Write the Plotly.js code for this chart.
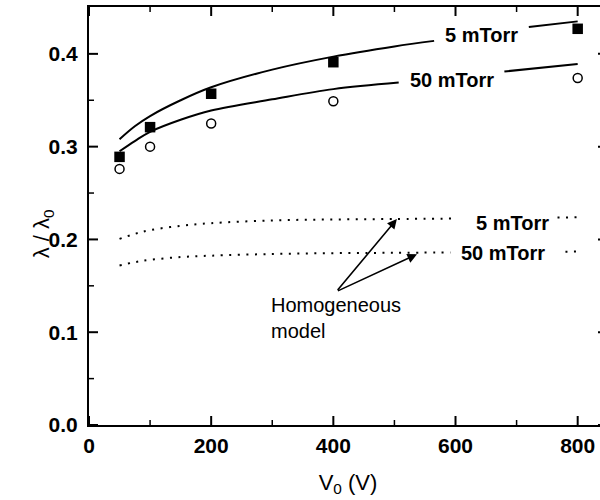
<!DOCTYPE html>
<html>
<head>
<meta charset="utf-8">
<script src="https://cdn.plot.ly/plotly-3.0.1.min.js"></script>
<style>
html, body { margin: 0; padding: 0; overflow: hidden; background: #fff; }
#chart { width: 607px; height: 500px; }
</style>
</head>
<body>
<div id="chart"></div>
<script>
// Measured points
const vData = [50, 100, 200, 400, 800];
const meas5 = [0.289, 0.321, 0.357, 0.391, 0.427];
const meas50 = [0.276, 0.300, 0.325, 0.349, 0.374];

// Model curves (null = gap where the label sits)
const fitX5 = [50, 75, 100, 150, 200, 300, 400, 500, 565, 640, 720, 800];
const fit5 = [0.308, 0.322, 0.333, 0.350, 0.364, 0.383, 0.397, 0.408, 0.414, null, 0.429, 0.435];
const fitX50 = [50, 75, 100, 150, 200, 300, 400, 507, 590, 680, 800];
const fit50 = [0.295, 0.306, 0.316, 0.329, 0.339, 0.351, 0.362, 0.369, null, 0.381, 0.389];

// Homogeneous model curves
const homX5 = [50, 75, 100, 150, 200, 300, 400, 500, 603, 680, 767, 805];
const hom5 = [0.2006, 0.206, 0.210, 0.2147, 0.2175, 0.2205, 0.2215, 0.222, 0.2225, null, 0.2235, 0.224];
const homX50 = [50, 75, 100, 150, 200, 300, 400, 500, 592, 680, 780, 802];
const hom50 = [0.172, 0.1755, 0.178, 0.181, 0.1825, 0.1843, 0.1852, 0.1856, 0.186, null, 0.1868, 0.187];

// Labels
const curveLabels = ['5 mTorr', '50 mTorr', '5 mTorr', '50 mTorr'];
const labelX = [643, 594, 693, 677];
const labelY = [0.4207, 0.3722, 0.2179, 0.1855];
const noteText = 'Homogeneous<br>model';
const arrowTail = [405, 0.1438];
const arrowHeadX = [504, 537];
const arrowHeadY = [0.222, 0.184];

// Ticks
const xTickVals = [0, 200, 400, 600, 800];
const xMinorVals = [100, 300, 500, 700];
const yTickVals = [0.0, 0.1, 0.2, 0.3, 0.4];
const yTickText = ['0.0', '0.1', '0.2', '0.3', '0.4'];
const yMinorVals = [0.05, 0.15, 0.25, 0.35];

const FONT = 'Liberation Sans, Arial, Helvetica, sans-serif';

const traces = [
  {x: fitX5, y: fit5, mode: 'lines', line: {color: '#000', width: 2, shape: 'spline'}, connectgaps: false},
  {x: fitX50, y: fit50, mode: 'lines', line: {color: '#000', width: 2, shape: 'spline'}, connectgaps: false},
  {x: homX5, y: hom5, mode: 'lines', line: {color: '#000', width: 2, shape: 'spline', dash: '2px,6.5px'}, connectgaps: false},
  {x: homX50, y: hom50, mode: 'lines', line: {color: '#000', width: 2, shape: 'spline', dash: '2px,6.5px'}, connectgaps: false},
  {x: vData, y: meas5, mode: 'markers', marker: {symbol: 'square', size: 10.5, color: '#000'}},
  {x: vData, y: meas50, mode: 'markers', marker: {symbol: 'circle-open', size: 9, color: '#000', line: {width: 1.5, color: '#000'}}}
];

const annotations = [];
for (let i = 0; i < curveLabels.length; i++) {
  annotations.push({x: labelX[i], y: labelY[i], xref: 'x', yref: 'y', text: curveLabels[i],
    showarrow: false, font: {family: FONT, size: 20, color: '#000', weight: 'bold'}});
}
annotations.push({x: 295, y: 0.1154, xref: 'x', yref: 'y', text: noteText, align: 'left',
  xanchor: 'left', showarrow: false, font: {family: FONT, size: 20, color: '#000'}});
for (let i = 0; i < arrowHeadX.length; i++) {
  annotations.push({x: arrowHeadX[i], y: arrowHeadY[i], xref: 'x', yref: 'y',
    ax: arrowTail[0], ay: arrowTail[1], axref: 'x', ayref: 'y', text: '',
    showarrow: true, arrowhead: 2, arrowsize: 1.2, arrowwidth: 1.6, arrowcolor: '#000'});
}
annotations.push({x: -0.119, y: 0.457, xref: 'paper', yref: 'paper', text: 'λ / λ<sub>0</sub>',
  textangle: -90, showarrow: false, font: {family: FONT, size: 22, color: '#000'}});

// Tick marks drawn inside the frame on all four sides (pixel lengths)
const shapes = [];
function xTick(v, len, w) {
  shapes.push({type: 'line', xref: 'x', yref: 'paper', ysizemode: 'pixel', yanchor: 0,
    x0: v, x1: v, y0: 0, y1: len, line: {color: '#000', width: w}});
  shapes.push({type: 'line', xref: 'x', yref: 'paper', ysizemode: 'pixel', yanchor: 1,
    x0: v, x1: v, y0: 0, y1: -len, line: {color: '#000', width: w}});
}
function yTick(v, len, w) {
  shapes.push({type: 'line', xref: 'paper', yref: 'y', xsizemode: 'pixel', xanchor: 0,
    x0: 0, x1: len, y0: v, y1: v, line: {color: '#000', width: w}});
  shapes.push({type: 'line', xref: 'paper', yref: 'y', xsizemode: 'pixel', xanchor: 1,
    x0: 0, x1: -len, y0: v, y1: v, line: {color: '#000', width: w}});
}
xTickVals.forEach(v => xTick(v, 9, 2));
xMinorVals.forEach(v => xTick(v, 5, 1.5));
yTickVals.forEach(v => yTick(v, 9, 2));
yMinorVals.forEach(v => yTick(v, 5, 1.5));

const layout = {
  width: 607, height: 500,
  margin: {l: 89, r: 0, t: 7, b: 75},
  paper_bgcolor: '#fff', plot_bgcolor: '#fff',
  showlegend: false,
  font: {family: FONT, color: '#000'},
  xaxis: {
    range: [0, 848], tickmode: 'array', tickvals: xTickVals, ticks: '', 
    showline: true, linewidth: 2, linecolor: '#000', mirror: true, showgrid: false, zeroline: false,
    tickfont: {family: FONT, size: 21, color: '#000', weight: 'bold'}, ticklabelstandoff: 1,
    title: {text: 'V<sub>0</sub> (V)', font: {family: FONT, size: 22, color: '#000'}, standoff: 18}
  },
  yaxis: {
    range: [0, 0.4505], tickmode: 'array', tickvals: yTickVals, ticktext: yTickText, ticks: '',
    showline: true, linewidth: 2, linecolor: '#000', mirror: true, showgrid: false, zeroline: false,
    tickfont: {family: FONT, size: 21, color: '#000', weight: 'bold'}, ticklabelstandoff: 5
  },
  shapes: shapes,
  annotations: annotations
};

Plotly.newPlot('chart', traces, layout, {staticPlot: true, displayModeBar: false});
</script>
</body>
</html>
